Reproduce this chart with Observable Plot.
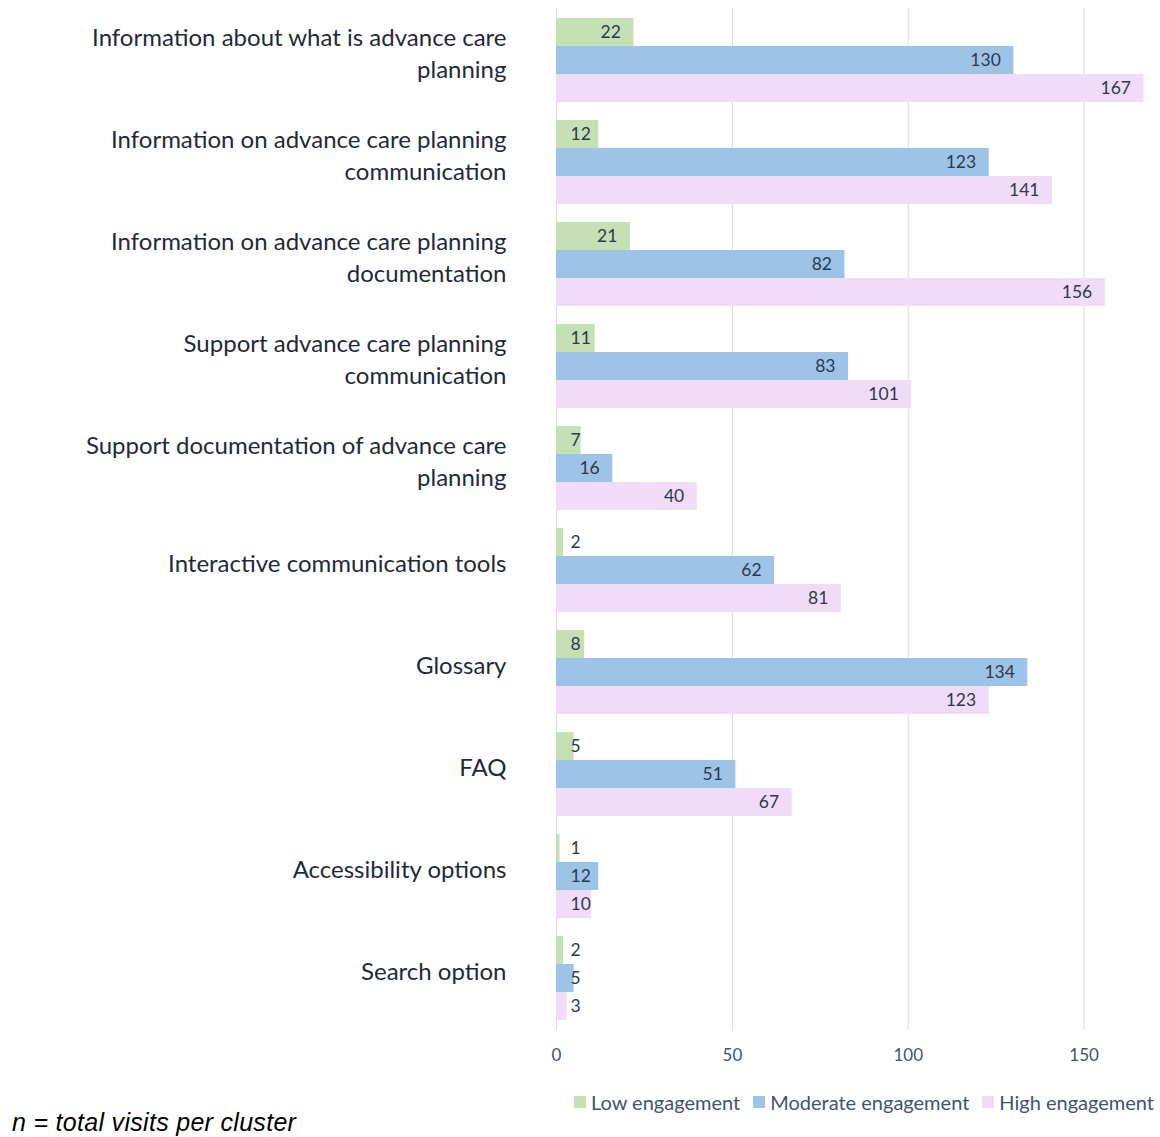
<!DOCTYPE html>
<html>
<head>
<meta charset="utf-8">
<script src="https://cdn.jsdelivr.net/npm/d3@7"></script>
<script src="https://cdn.jsdelivr.net/npm/@observablehq/plot@0.6"></script>
<style>
  html, body { margin: 0; padding: 0; background: #fff; }
  #wrap { position: relative; width: 1160px; height: 1137px; font-family: Lato, "Noto Sans", sans-serif; }
  #legend { position: absolute; top: 1090px; right: 6px; display: flex; gap: 13px; font-size: 20px; color: #44546a; align-items: center; }
  #legend .item { display: flex; align-items: center; gap: 5px; }
  #legend .sw { width: 12px; height: 12px; display: inline-block; }
  #caption { position: absolute; top: 1108px; left: 12px; font-family: "Liberation Sans", Arial, sans-serif; font-style: italic; font-size: 25px; letter-spacing: 0.3px; color: #000; }
</style>
</head>
<body>
<div id="wrap">
  <div id="chart"></div>
  <div id="legend"></div>
  <div id="caption">n = total visits per cluster</div>
</div>
<script>
const categories = [
  "Information about what is advance care planning",
  "Information on advance care planning communication",
  "Information on advance care planning documentation",
  "Support advance care planning communication",
  "Support documentation of advance care planning",
  "Interactive communication tools",
  "Glossary",
  "FAQ",
  "Accessibility options",
  "Search option"
];
const categoryLabels = [
  "Information about what is advance care\nplanning",
  "Information on advance care planning\ncommunication",
  "Information on advance care planning\ndocumentation",
  "Support advance care planning\ncommunication",
  "Support documentation of advance care\nplanning",
  "Interactive communication tools",
  "Glossary",
  "FAQ",
  "Accessibility options",
  "Search option"
];
const seriesNames = ["Low engagement", "Moderate engagement", "High engagement"];
const lowValues = [22, 12, 21, 11, 7, 2, 8, 5, 1, 2];
const moderateValues = [130, 123, 82, 83, 16, 62, 134, 51, 12, 5];
const highValues = [167, 141, 156, 101, 40, 81, 123, 67, 10, 3];
const xTicks = [0, 50, 100, 150];

const colors = ["#c5e0b4", "#9dc3e6", "#f0dcf8"];
const seriesValues = [lowValues, moderateValues, highValues];

const rows = [];
seriesValues.forEach((vals, si) => {
  vals.forEach((v, ci) => rows.push({category: categories[ci], series: seriesNames[si], si, value: v}));
});

const barH = 28;
const insets = [
  {insetTop: 0, insetBottom: 2 * barH},
  {insetTop: barH, insetBottom: barH},
  {insetTop: 2 * barH, insetBottom: 0}
];
const offsets = [-barH, 0, barH];

const marks = [
  Plot.gridX(xTicks, {stroke: "#d9d9e3", strokeOpacity: 1, strokeWidth: 1})
];
seriesNames.forEach((s, si) => {
  const data = rows.filter(d => d.si === si);
  marks.push(Plot.barX(data, {x: "value", y: "category", fill: colors[si], ...insets[si]}));
  marks.push(Plot.text(data.filter(d => d.value > 12), {
    x: "value", y: "category", text: d => String(d.value), textAnchor: "end",
    dx: -13, dy: offsets[si], fontSize: 17.5, fill: "#2b3a4e"
  }));
  marks.push(Plot.text(data.filter(d => d.value <= 12), {
    x: 0, y: "category", text: d => String(d.value), textAnchor: "start",
    dx: 14, dy: offsets[si], fontSize: 17.5, fill: "#2b3a4e"
  }));
});
marks.push(Plot.text(categories, {
  y: d => d, text: (d, i) => categoryLabels[i], frameAnchor: "left", textAnchor: "end",
  dx: -50, dy: -9, fontSize: 24, lineHeight: 1.35, fill: "#1f2a38"
}));
marks.push(Plot.axisX(xTicks, {tickSize: 0, tickPadding: 18, fontSize: 17, fill: "#44546a", label: null}));

const chart = Plot.plot({
  width: 1160,
  height: 1080,
  marginLeft: 556,
  marginRight: 6,
  marginTop: 8,
  marginBottom: 50,
  style: {fontFamily: "Lato, 'Noto Sans', sans-serif", background: "#fff"},
  x: {domain: [0, 170], axis: null},
  y: {domain: categories, paddingInner: 0.178, paddingOuter: 0.088, axis: null},
  marks
});
document.getElementById("chart").appendChild(chart);

const legend = document.getElementById("legend");
seriesNames.forEach((s, i) => {
  const item = document.createElement("div");
  item.className = "item";
  item.innerHTML = `<span class="sw" style="background:${colors[i]}"></span><span>${s}</span>`;
  legend.appendChild(item);
});
</script>
</body>
</html>
